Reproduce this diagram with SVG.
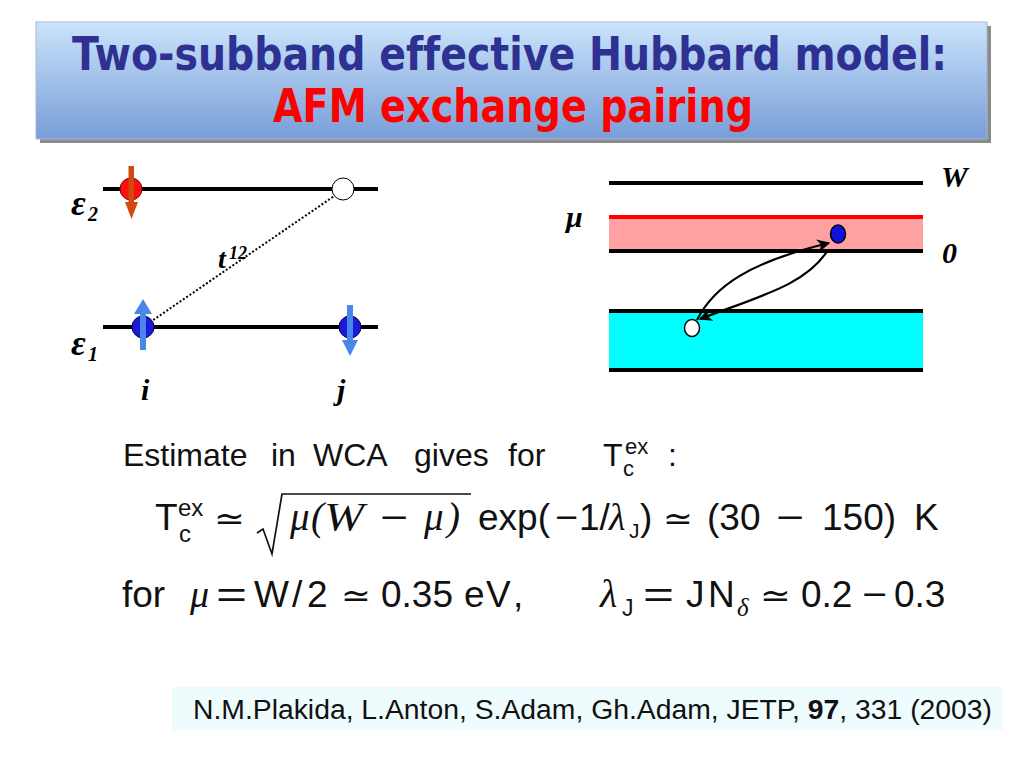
<svg xmlns="http://www.w3.org/2000/svg" width="1024" height="768" viewBox="0 0 1024 768">
<defs>
<linearGradient id="titleGrad" x1="0" y1="0" x2="0" y2="1">
<stop offset="0" stop-color="#cbe4fb"/>
<stop offset="1" stop-color="#789dd8"/>
</linearGradient>
<marker id="ah" viewBox="0 0 10 10" refX="9" refY="5" markerWidth="6" markerHeight="6" orient="auto" markerUnits="strokeWidth">
<path d="M0,0 L10,5 L0,10 L3,5 Z" fill="#000"/>
</marker>
<style>
.title{font-family:"DejaVu Sans",sans-serif;font-weight:bold;font-size:46px;font-variant-ligatures:none}
.lvl{stroke:#000;stroke-width:4;fill:none}
.lbl{font-family:"Liberation Serif",serif;font-style:italic;font-weight:bold;fill:#000}
.sans{font-family:"Liberation Sans",sans-serif;fill:#111}
.math{font-family:"Liberation Serif",serif;font-style:italic;fill:#111}
.sym{font-family:"DejaVu Sans",sans-serif;fill:#111}
.conn{fill:none;stroke:#000;stroke-width:2.2}
</style>
</defs>
<rect width="1024" height="768" fill="#fff"/>

<g id="title">
<rect x="40" y="26" width="951" height="117" fill="#8a8a8a"/>
<rect x="36" y="22" width="951" height="117" fill="url(#titleGrad)" stroke="#a9b9d6" stroke-width="1"/>
<text class="title" x="72" y="70" fill="#2e3192" textLength="875" lengthAdjust="spacingAndGlyphs">Two-subband effective Hubbard model:</text>
<text class="title" x="273" y="122" fill="#ff0000" textLength="480" lengthAdjust="spacingAndGlyphs">AFM exchange pairing</text>
</g>

<g id="left-diagram">
<g id="level-e2">
<line class="lvl" x1="103" y1="189" x2="378" y2="189"/>
<text class="lbl" x="71" y="215" font-size="36">ε</text>
<text class="lbl" x="88" y="221" font-size="20">2</text>
</g>
<g id="level-e1">
<line class="lvl" x1="103" y1="327" x2="378" y2="327"/>
<text class="lbl" x="71" y="355" font-size="36">ε</text>
<text class="lbl" x="88" y="361" font-size="20">1</text>
</g>
<g id="connectors-left">
<line x1="343" y1="190" x2="143" y2="327" stroke="#000" stroke-width="2" stroke-dasharray="2,2"/>
</g>
<g id="electron-e2-i">
<circle cx="131" cy="189" r="11" fill="#ff1010" stroke="#8b0000" stroke-width="1"/>
<polygon points="128.5,166 134,166 134,202 138,202 131.5,219 125,202 128.5,202" fill="#d2490f"/>
</g>
<g id="hole-e2-j">
<circle cx="343" cy="189" r="11" fill="#fff" stroke="#000" stroke-width="1"/>
</g>
<g id="electron-e1-i">
<circle cx="143" cy="327" r="11" fill="#1a1ad8" stroke="#000050" stroke-width="1"/>
<polygon points="140,350 146,350 146,314 152,314 143,299 134,314 140,314" fill="#4a86ea"/>
</g>
<g id="electron-e1-j">
<circle cx="350" cy="327" r="11" fill="#1a1ad8" stroke="#000050" stroke-width="1"/>
<polygon points="347,305 353,305 353,340 358,340 350,356 342,340 347,340" fill="#4a86ea"/>
</g>
<g id="hopping-label">
<text class="lbl" x="218" y="268" font-size="28">t</text>
<text class="lbl" x="229" y="259" font-size="18">12</text>
</g>
<text class="lbl" x="141" y="400" font-size="30">i</text>
<text class="lbl" x="337" y="400" font-size="30">j</text>
</g>

<g id="right-diagram">
<g id="band-upper">
<rect x="609" y="217" width="314" height="34" fill="#ffa0a2"/>
<line x1="609" y1="217" x2="923" y2="217" stroke="#ff0000" stroke-width="4"/>
<line class="lvl" x1="609" y1="251" x2="923" y2="251"/>
</g>
<g id="band-lower">
<rect x="609" y="311" width="314" height="59" fill="#00ffff"/>
<line class="lvl" x1="609" y1="311" x2="923" y2="311"/>
<line class="lvl" x1="609" y1="370" x2="923" y2="370"/>
</g>
<g id="level-W">
<line class="lvl" x1="609" y1="183" x2="923" y2="183"/>
<text class="lbl" x="941" y="187" font-size="30">W</text>
</g>
<text class="lbl" x="566" y="227" font-size="30">μ</text>
<text class="lbl" x="942" y="263" font-size="30">0</text>
<g id="connectors-right">
<path class="conn" d="M697,320 C714,286 750,262 829,243" marker-end="url(#ah)"/>
<path class="conn" d="M828,250 C806,285 760,296 700,319" marker-end="url(#ah)"/>
</g>
<g id="electron-upper">
<ellipse cx="838" cy="234" rx="7.5" ry="9" fill="#1010e0" stroke="#000" stroke-width="1.5"/>
</g>
<g id="hole-lower">
<ellipse cx="692" cy="328" rx="7.5" ry="8.5" fill="#fff" stroke="#000" stroke-width="1.5"/>
</g>
</g>

<g id="estimate-line" class="sans" font-size="32">
<text x="123" y="466">Estimate</text>
<text x="271" y="466">in</text>
<text x="313" y="466">WCA</text>
<text x="414" y="466">gives</text>
<text x="508" y="466">for</text>
<text x="603" y="466">T</text>
<text x="623" y="476" font-size="22">c</text>
<text x="625" y="454" font-size="22">ex</text>
<text x="668" y="466">:</text>
</g>

<g id="formula-tc">
<text class="sans" x="155" y="530" font-size="37">T</text>
<text class="sans" x="178" y="516" font-size="24">ex</text>
<text class="sans" x="179" y="542" font-size="24">c</text>
<text class="sym" x="214" y="530" font-size="33" textLength="31" lengthAdjust="spacingAndGlyphs">≃</text>
<path d="M257,533 L263,529 L272,554 L282,494 L471,494" fill="none" stroke="#111" stroke-width="1.7"/>
<text class="math" x="290" y="530" font-size="39">μ</text>
<text class="math" x="311" y="530" font-size="39">(</text>
<text class="math" x="324" y="530" font-size="39" textLength="40" lengthAdjust="spacingAndGlyphs">W</text>
<text class="sans" x="380" y="530" font-size="37" textLength="28" lengthAdjust="spacingAndGlyphs">−</text>
<text class="math" x="424" y="530" font-size="39">μ</text>
<text class="math" x="447" y="530" font-size="39">)</text>
<text class="sans" x="478" y="530" font-size="37">exp(</text>
<text class="sans" x="555" y="530" font-size="37" textLength="23" lengthAdjust="spacingAndGlyphs">−</text>
<text class="sans" x="579" y="530" font-size="37">1/</text>
<text class="math" x="609" y="530" font-size="38">λ</text>
<text class="sans" x="629" y="538" font-size="21">J</text>
<text class="sans" x="640" y="530" font-size="37">)</text>
<text class="sym" x="663" y="530" font-size="33" textLength="30" lengthAdjust="spacingAndGlyphs">≃</text>
<text class="sans" x="707" y="530" font-size="37">(30</text>
<text class="sans" x="776" y="530" font-size="37" textLength="28" lengthAdjust="spacingAndGlyphs">−</text>
<text class="sans" x="822" y="530" font-size="37">150)</text>
<text class="sans" x="914" y="530" font-size="37">K</text>
</g>

<g id="parameters-line">
<text class="sans" x="122" y="607" font-size="37">for</text>
<text class="math" x="190" y="607" font-size="38">μ</text>
<text class="sans" x="216" y="607" font-size="37" textLength="31" lengthAdjust="spacingAndGlyphs">=</text>
<text class="sans" x="254" y="607" font-size="37">W</text>
<text class="sans" x="292" y="607" font-size="37">/</text>
<text class="sans" x="307" y="607" font-size="37">2</text>
<text class="sym" x="341" y="607" font-size="33" textLength="30" lengthAdjust="spacingAndGlyphs">≃</text>
<text class="sans" x="381" y="607" font-size="37">0.35</text>
<text class="sans" x="464" y="607" font-size="37">e</text>
<text class="sans" x="486" y="607" font-size="37">V</text>
<text class="sans" x="513" y="607" font-size="37">,</text>
<text class="math" x="600" y="607" font-size="40">λ</text>
<text class="sans" x="622" y="616" font-size="23">J</text>
<text class="sans" x="643" y="607" font-size="37" textLength="31" lengthAdjust="spacingAndGlyphs">=</text>
<text class="sans" x="686" y="607" font-size="37">J</text>
<text class="sans" x="708" y="607" font-size="37">N</text>
<text class="math" x="737" y="616" font-size="25">δ</text>
<text class="sym" x="760" y="607" font-size="33" textLength="31" lengthAdjust="spacingAndGlyphs">≃</text>
<text class="sans" x="801" y="607" font-size="37">0.2</text>
<text class="sans" x="862" y="607" font-size="37" textLength="25" lengthAdjust="spacingAndGlyphs">−</text>
<text class="sans" x="894" y="607" font-size="37">0.3</text>
</g>

<g id="citation">
<rect x="172" y="687" width="831" height="43" fill="#effcfd"/>
<text class="sans" x="193" y="719" font-size="27" textLength="799" lengthAdjust="spacingAndGlyphs">N.M.Plakida, L.Anton, S.Adam, Gh.Adam, JETP, <tspan font-weight="bold">97</tspan>, 331 (2003)</text>
</g>
</svg>
